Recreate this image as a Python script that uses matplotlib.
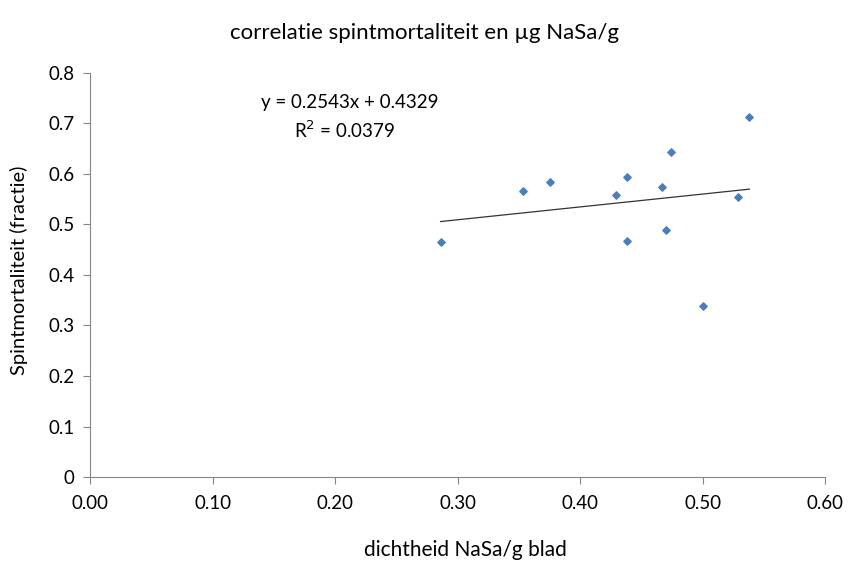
import numpy as np
import matplotlib
matplotlib.use('Agg')
import matplotlib.pyplot as plt

# data
dichtheid = [0.286, 0.353, 0.375, 0.429, 0.438, 0.438, 0.467, 0.474, 0.470, 0.500, 0.529, 0.538]
mortaliteit = [0.465, 0.567, 0.584, 0.558, 0.593, 0.467, 0.574, 0.644, 0.489, 0.339, 0.554, 0.713]
slope, intercept, r2 = 0.2543, 0.4329, 0.0379
x_ticks = [0.0, 0.1, 0.2, 0.3, 0.4, 0.5, 0.6]
y_ticks = [0, 0.1, 0.2, 0.3, 0.4, 0.5, 0.6, 0.7, 0.8]

plt.rcParams['font.family'] = ['Lato', 'DejaVu Sans']
axis_color = '#868686'

fig = plt.figure(figsize=(8.5, 5.64), dpi=100)
ax = fig.add_axes([0.106, 0.154, 0.865, 0.717])

ax.scatter(dichtheid, mortaliteit, marker='D', s=14, color='#4a7ebb', zorder=3)

xs = np.array([min(dichtheid), max(dichtheid)])
ax.plot(xs, slope * xs + intercept, color='#333333', linewidth=0.9, zorder=2)

ax.set_xlim(0, 0.6)
ax.set_ylim(0, 0.8)
ax.set_xticks(x_ticks)
ax.set_xticklabels([f'{t:.2f}' for t in x_ticks])
ax.set_yticks(y_ticks)
ax.set_yticklabels(['0'] + [f'{t:.1f}' for t in y_ticks[1:]])
ax.tick_params(labelsize=13.5, color=axis_color, length=5, direction='out')
ax.tick_params(axis='x', pad=8)
ax.tick_params(axis='y', pad=6)

for side in ('top', 'right'):
    ax.spines[side].set_visible(False)
for side in ('left', 'bottom'):
    ax.spines[side].set_color(axis_color)

ax.text(0.212, 0.741, f'y = {slope:.4f}x + {intercept:.4f}', ha='center', va='center', fontsize=13.5)
ax.text(0.208, 0.687, f'R$^2$ = {r2:.4f}', ha='center', va='center', fontsize=13.5)

fig.text(0.5, 0.941, 'correlatie spintmortaliteit en µg NaSa/g', ha='center', va='center', fontsize=16)
fig.text(0.547, 0.025, 'dichtheid NaSa/g blad', ha='center', va='center', fontsize=15)
fig.text(0.022, 0.52, 'Spintmortaliteit (fractie)', ha='center', va='center', rotation=90, fontsize=14.5)

plt.savefig('out.png', dpi=100, facecolor='white')
plt.close(fig)
